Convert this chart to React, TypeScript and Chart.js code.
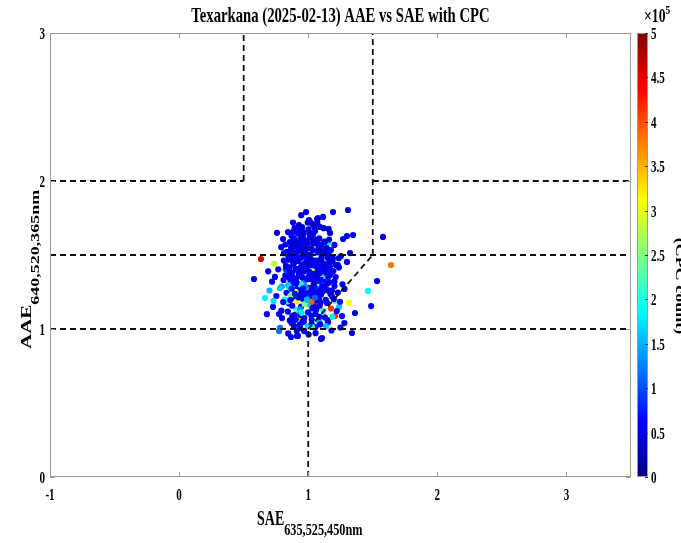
import React, { useEffect, useRef } from "react";
import { Chart, registerables } from "chart.js";

Chart.register(...registerables);

const chartTitle = "Texarkana (2025-02-13) AAE vs SAE with CPC";
const xLabelMain = "SAE";
const xLabelSub = "635,525,450nm";
const yLabelMain = "AAE";
const yLabelSub = "640,520,365nm";
const colorbarLabel = "(CPC count)";
const colorbarExponent = "5";

const xMin = -1;
const xMax = 3.5;
const xStep = 1;
const yMin = 0;
const yMax = 3;
const yStep = 1;
const cpcMin = 0;
const cpcMax = 5;
const cpcStep = 0.5;

// SAE (x)
const sae = [
  0.634, 1.641, 1.579, 1.533, 1.463, 1.316, 1.487, 1.207, 1.362, 1.339,
  1.107, 1.308, 1.192, 0.983, 0.580, 0.665, 0.680, 0.867, 0.920, 1.099,
  0.774, 1.006, 1.030, 1.076, 0.758, 0.843, 0.882, 0.960, 1.053, 0.805,
  0.735, 1.115, 1.068, 1.090, 1.169, 1.300, 1.347, 1.270, 1.153, 1.324,
  1.254, 1.300, 1.230, 0.727, 0.774, 0.797, 0.845, 0.913, 0.937, 0.929,
  0.782, 1.250, 1.280, 1.180, 1.240, 1.150, 1.210, 0.700, 0.720, 0.690,
  0.812, 0.845, 0.873, 0.901, 0.934, 0.962, 0.995, 1.021, 1.048, 1.077,
  1.103, 1.131, 1.158, 1.187, 0.826, 0.858, 0.887, 0.919, 0.948, 0.977,
  1.006, 1.034, 1.062, 1.091, 1.118, 1.146, 1.174, 1.203, 0.795, 0.832,
  0.864, 0.896, 0.927, 0.955, 0.986, 1.013, 1.043, 1.071, 1.099, 1.127,
  1.156, 1.185, 0.818, 0.851, 0.883, 0.914, 0.945, 0.974, 1.004, 1.032,
  1.061, 1.089, 1.117, 1.145, 0.842, 0.876, 0.908, 0.938, 0.969, 0.998,
  1.027, 1.057, 1.085, 0.871, 0.903, 0.935, 0.966, 0.996, 1.026, 1.054,
  0.857, 0.889, 0.921, 0.952, 0.981, 1.011, 1.041, 1.069, 1.097, 1.126,
  0.791, 0.823, 0.953, 0.928, 0.894, 1.002, 1.038, 0.871, 1.142, 1.176,
  0.884, 0.947, 1.016, 0.905, 0.968, 1.074, 0.836, 1.122, 0.991, 1.053,
  0.917, 0.862, 1.084, 1.027, 0.954, 0.809, 1.163, 1.112, 0.876, 0.995,
  0.937, 1.044, 0.892, 1.136, 0.976, 1.067, 0.913, 0.851, 1.019, 1.101,
  0.827, 0.959, 1.078, 1.168, 0.898, 1.033, 0.985, 1.121, 0.869, 0.941,
  1.046, 0.908, 0.973, 1.109, 0.844, 1.195, 0.927, 1.007, 1.088, 0.961,
  1.024, 0.877, 0.993, 1.134, 1.062, 0.919, 0.954, 1.081, 0.839, 1.172,
  0.903, 1.012, 0.958, 1.148, 0.866, 1.039, 0.979, 1.096, 0.931, 1.064,
  1.153, 1.187, 1.221, 1.246, 1.198, 1.262, 1.138, 1.176, 1.229, 1.281,
  0.753, 0.781, 0.742, 0.806, 0.768, 1.213, 1.238, 0.731, 1.265, 0.792,
  1.014, 0.946, 1.119, 0.882, 1.071, 0.998, 0.921, 1.046, 0.973, 1.158,
  0.955, 1.029, 0.889, 1.093, 0.968, 0.912, 1.057, 0.858, 1.129, 1.003,
  0.934, 0.987, 1.036, 0.879, 1.101, 0.962, 1.016, 0.909, 1.074, 0.848,
  0.972, 1.042, 0.901, 1.113, 0.948, 1.087, 0.861, 1.026, 0.994, 1.138,
  0.823, 0.956, 1.108, 0.874, 1.041, 0.992, 1.167, 0.905, 1.083, 0.938,
  1.017, 0.867, 1.132, 0.979, 0.846, 1.058, 0.923, 1.191, 0.964, 1.101,
  0.893, 1.035, 0.944, 1.076, 0.811, 1.149, 0.983, 0.857, 1.022, 1.214,
  0.968, 1.094, 0.881, 1.006, 1.127, 0.937, 1.052, 0.899, 1.175, 0.951,
  1.068, 0.918, 1.143, 0.834, 0.996, 1.085, 0.943, 1.031, 0.872, 1.203,
  0.985, 1.117, 0.906, 1.048, 0.959, 1.162, 0.849, 1.002, 1.091, 0.926,
  1.236, 1.204, 0.883, 1.018, 0.952, 1.073, 0.914, 1.155, 0.991, 1.047,
  0.941, 1.064, 0.862, 1.126, 1.009, 0.897, 1.183, 0.973, 1.039, 0.929,
];

// AAE (y)
const aae = [
  1.473, 1.432, 1.622, 1.324, 1.257, 1.176, 1.155, 1.088, 1.108, 0.973,
  0.939, 1.804, 1.790, 1.790, 1.338, 1.209, 1.100, 0.946, 0.953, 0.933,
  0.986, 1.736, 1.710, 1.750, 1.650, 1.655, 1.655, 1.655, 1.660, 1.608,
  1.440, 1.757, 1.743, 1.690, 1.649, 1.628, 1.635, 1.608, 1.580, 1.513,
  1.493, 1.453, 1.432, 1.149, 1.101, 1.074, 0.970, 0.953, 1.007, 1.081,
  1.007, 1.010, 1.040, 0.990, 1.150, 1.060, 1.190, 1.260, 1.320, 1.390,
  1.512, 1.468, 1.533, 1.487, 1.552, 1.421, 1.498, 1.545, 1.463, 1.517,
  1.482, 1.439, 1.506, 1.458, 1.402, 1.375, 1.441, 1.398, 1.362, 1.425,
  1.389, 1.352, 1.417, 1.378, 1.335, 1.401, 1.366, 1.322, 1.287, 1.245,
  1.312, 1.268, 1.301, 1.257, 1.289, 1.246, 1.308, 1.271, 1.232, 1.294,
  1.261, 1.219, 1.198, 1.173, 1.214, 1.187, 1.151, 1.206, 1.168, 1.139,
  1.192, 1.157, 1.121, 1.176, 1.118, 1.087, 1.129, 1.096, 1.073, 1.112,
  1.064, 1.102, 1.049, 1.041, 1.062, 1.028, 1.049, 1.017, 1.035, 1.012,
  1.588, 1.612, 1.571, 1.627, 1.596, 1.618, 1.579, 1.603, 1.569, 1.591,
  1.553, 1.571, 1.688, 1.702, 1.681, 1.673, 1.642, 1.628, 1.547, 1.533,
  1.447, 1.483, 1.436, 1.339, 1.318, 1.342, 1.353, 1.413, 1.462, 1.387,
  1.274, 1.224, 1.198, 1.281, 1.227, 1.331, 1.316, 1.264, 1.157, 1.252,
  1.133, 1.154, 1.094, 1.197, 1.182, 1.227, 1.242, 1.283, 1.216, 1.331,
  1.426, 1.523, 1.563, 1.422, 1.558, 1.373, 1.454, 1.527, 1.492, 1.301,
  1.291, 1.403, 1.541, 1.447, 1.298, 1.392, 1.363, 1.276, 1.322, 1.201,
  1.091, 1.381, 1.336, 1.358, 1.132, 1.458, 1.392, 1.421, 1.187, 1.236,
  1.517, 1.474, 1.614, 1.307, 1.342, 1.532, 1.274, 1.177, 1.592, 1.449,
  1.045, 1.082, 1.121, 1.184, 1.203, 1.087, 1.018, 1.138, 1.246, 1.271,
  1.223, 1.276, 1.352, 1.182, 1.403, 1.351, 1.415, 1.188, 1.302, 1.124,
  1.724, 1.769, 1.681, 1.719, 1.718, 1.581, 1.646, 1.701, 1.566, 1.676,
  1.049, 1.012, 1.021, 1.031, 0.986, 0.988, 0.972, 1.058, 1.078, 0.962,
  1.478, 1.412, 1.453, 1.466, 1.512, 1.557, 1.361, 1.313, 1.398, 1.521,
  1.169, 1.226, 1.251, 1.254, 1.109, 1.082, 1.196, 1.184, 1.343, 1.381,
  1.362, 1.437, 1.286, 1.529, 1.597, 1.243, 1.458, 1.406, 1.542, 1.589,
  1.478, 1.551, 1.398, 1.283, 1.494, 1.371, 1.214, 1.477, 1.642, 1.564,
  1.311, 1.618, 1.566, 1.247, 1.462, 1.482, 1.509, 1.417, 1.338, 1.433,
  1.391, 1.527, 1.348, 1.444, 1.586, 1.669, 1.212, 1.601, 1.388, 1.246,
  1.326, 1.486, 1.263, 1.521, 1.719, 1.612, 1.419, 1.431, 1.272, 1.568,
  1.542, 1.402, 1.476, 1.688, 1.273, 1.604, 1.407, 1.352, 1.263, 1.527,
  1.478, 1.291, 1.573, 1.503, 1.349, 1.462, 1.562, 1.351, 1.198, 1.327,
  1.627, 1.582, 1.335, 1.516, 1.651, 1.238, 1.259, 1.496, 1.264, 1.372,
];

// CPC count, in units of 1e5
const cpcE5 = [
  4.6, 3.8, 0.4, 0.5, 1.9, 3.1, 0.6, 4.2, 0.5, 0.5,
  0.6, 0.5, 0.5, 0.5, 0.5, 1.8, 0.6, 0.6, 0.5, 0.5,
  1.2, 0.5, 0.4, 0.5, 0.5, 0.5, 0.6, 0.4, 0.5, 0.5,
  2.8, 0.5, 0.5, 0.4, 0.5, 0.5, 0.6, 0.5, 1.9, 0.5,
  0.5, 0.5, 0.6, 0.6, 0.5, 0.5, 0.5, 0.6, 0.5, 3.6,
  1.2, 0.5, 0.5, 0.6, 1.6, 0.5, 2.4, 1.5, 0.6, 0.5,
  0.5, 0.4, 0.6, 0.5, 0.4, 0.7, 0.5, 0.4, 0.6, 0.5,
  0.5, 0.6, 0.5, 0.4, 0.9, 0.5, 0.6, 0.5, 1.1, 0.5,
  0.6, 0.5, 0.4, 0.6, 0.5, 0.7, 0.5, 0.5, 1.4, 0.6,
  0.5, 1.7, 0.6, 0.5, 2.6, 0.5, 0.4, 1.2, 0.5, 0.6,
  0.5, 0.5, 1.9, 0.6, 0.5, 3.2, 0.5, 0.6, 1.6, 0.5,
  0.6, 0.5, 1.8, 0.5, 0.5, 0.6, 2.2, 0.5, 0.5, 0.7,
  0.5, 0.6, 1.5, 0.5, 0.6, 0.5, 0.6, 1.7, 0.5, 0.6,
  0.5, 0.4, 0.5, 0.5, 0.6, 0.5, 0.4, 0.5, 0.6, 0.5,
  0.5, 0.6, 0.5, 0.4, 0.5, 0.5, 0.5, 0.6, 0.5, 0.5,
  0.6, 0.5, 0.7, 0.5, 1.3, 0.5, 0.6, 0.5, 0.5, 2.9,
  0.5, 2.4, 0.6, 4.3, 0.5, 0.6, 0.5, 1.7, 0.6, 0.5,
  1.4, 0.5, 0.6, 0.5, 3.3, 0.6, 0.5, 1.8, 0.5, 0.6,
  0.5, 0.5, 0.6, 0.5, 0.4, 0.6, 0.5, 0.5, 0.6, 2.1,
  0.5, 0.6, 0.5, 0.5, 1.6, 0.6, 0.5, 0.5, 0.7, 0.5,
  0.6, 0.5, 0.5, 1.7, 0.5, 0.6, 0.5, 0.5, 2.0, 0.5,
  0.5, 0.5, 0.4, 0.5, 0.6, 0.5, 2.8, 0.5, 0.5, 0.6,
  0.5, 1.8, 0.6, 0.7, 0.5, 0.6, 1.6, 4.1, 0.5, 0.6,
  0.6, 1.6, 0.5, 0.5, 0.6, 0.5, 0.5, 1.7, 0.6, 0.5,
  0.5, 0.4, 0.5, 0.5, 0.4, 0.5, 0.5, 0.6, 0.5, 0.4,
  0.6, 1.9, 0.5, 0.6, 0.5, 0.5, 0.6, 0.5, 0.5, 0.5,
  0.5, 0.6, 0.5, 0.5, 0.5, 0.4, 0.5, 0.6, 0.5, 0.5,
  2.5, 0.6, 3.0, 0.5, 1.8, 0.6, 0.5, 3.9, 0.5, 0.6,
  0.5, 0.4, 0.6, 0.5, 0.4, 0.7, 0.5, 0.5, 0.4, 0.5,
  0.4, 0.5, 0.6, 1.3, 0.5, 0.4, 0.6, 0.5, 0.4, 0.5,
  0.6, 0.4, 0.5, 0.5, 0.5, 0.4, 0.5, 0.6, 0.5, 0.5,
  0.5, 0.4, 0.6, 0.5, 0.4, 0.5, 1.1, 0.5, 0.5, 0.6,
  0.5, 0.6, 0.5, 0.5, 0.4, 0.5, 0.5, 0.6, 0.7, 0.5,
  0.4, 0.5, 0.5, 0.4, 0.6, 0.5, 0.5, 0.5, 0.6, 0.5,
  0.5, 0.6, 0.4, 0.5, 0.5, 0.5, 0.4, 0.6, 1.5, 0.5,
  0.4, 0.5, 0.6, 0.5, 0.4, 0.7, 0.5, 0.5, 0.6, 0.5,
];

// Dashed guide segments (x pairs and y pairs)
const guideX = [
  [-1, 0.5], [0.5, 0.5], [1.5, 3.5], [1.5, 1.5],
  [-1, 3.5], [-1, 3.5], [1, 1], [1, 1.5],
];
const guideY = [
  [2, 2], [2, 3], [2, 2], [1.5, 3],
  [1.5, 1.5], [1, 1], [0, 1], [1, 1.5],
];

const SERIF = '"Liberation Serif", "Times New Roman", Times, serif';
const CONDENSE = 0.7;

function clamp01(v: number) {
  return Math.max(0, Math.min(1, v));
}
function jet(t: number) {
  const tt = clamp01(t);
  const r = clamp01(1.5 - Math.abs(4 * tt - 3));
  const g = clamp01(1.5 - Math.abs(4 * tt - 2));
  const b = clamp01(1.5 - Math.abs(4 * tt - 1));
  return `rgb(${Math.round(r * 255)},${Math.round(g * 255)},${Math.round(b * 255)})`;
}

type Piece = { text: string; size: number; dy: number };

function drawPieces(
  ctx: CanvasRenderingContext2D,
  pieces: Piece[],
  x: number,
  y: number,
  rot: number,
  sx: number,
  sy: number,
  align: "left" | "center" | "right"
) {
  ctx.save();
  ctx.translate(x, y);
  ctx.rotate(rot);
  ctx.scale(sx, sy);
  ctx.textBaseline = "alphabetic";
  ctx.textAlign = "left";
  let total = 0;
  const widths = pieces.map((p) => {
    ctx.font = `bold ${p.size}px ${SERIF}`;
    const w = ctx.measureText(p.text).width;
    total += w;
    return w;
  });
  let cx = align === "left" ? 0 : align === "center" ? -total / 2 : -total;
  pieces.forEach((p, i) => {
    ctx.font = `bold ${p.size}px ${SERIF}`;
    ctx.fillText(p.text, cx, p.dy);
    cx += widths[i];
  });
  ctx.restore();
}

function fmt(v: number) {
  return String(Math.round(v * 100) / 100);
}

const decorPlugin = {
  id: "decor",
  afterDraw(chart: any) {
    const ctx: CanvasRenderingContext2D = chart.ctx;
    const a = chart.chartArea;
    const xs = chart.scales.x;
    const ys = chart.scales.y;
    const cb = chart.scales.cb;
    ctx.save();
    ctx.fillStyle = "#000";

    // frame
    ctx.strokeStyle = "#9a9a9a";
    ctx.lineWidth = 1;
    ctx.strokeRect(a.left + 0.5, a.top + 0.5, a.right - a.left - 1, a.bottom - a.top - 1);

    // inner tick marks
    ctx.beginPath();
    xs.ticks.forEach((t: any) => {
      const px = Math.round(xs.getPixelForValue(t.value)) + 0.5;
      ctx.moveTo(px, a.bottom);
      ctx.lineTo(px, a.bottom - 5);
      ctx.moveTo(px, a.top);
      ctx.lineTo(px, a.top + 5);
    });
    ys.ticks.forEach((t: any) => {
      const py = Math.round(ys.getPixelForValue(t.value)) + 0.5;
      ctx.moveTo(a.left, py);
      ctx.lineTo(a.left + 5, py);
      ctx.moveTo(a.right, py);
      ctx.lineTo(a.right - 5, py);
    });
    ctx.stroke();

    // tick labels
    xs.ticks.forEach((t: any) => {
      const px = xs.getPixelForValue(t.value);
      drawPieces(ctx, [{ text: fmt(t.value), size: 17, dy: 0 }], px, a.bottom + 23, 0, 0.65, 1, "center");
    });
    ys.ticks.forEach((t: any) => {
      const py = ys.getPixelForValue(t.value);
      drawPieces(ctx, [{ text: fmt(t.value), size: 17, dy: 0 }], a.left - 5, py + 6, 0, 0.65, 1, "right");
    });

    // title
    drawPieces(ctx, [{ text: chartTitle, size: 21, dy: 0 }], (a.left + a.right) / 2, 22, 0, CONDENSE, 1, "center");

    // x label
    drawPieces(
      ctx,
      [
        { text: xLabelMain, size: 20, dy: 0 },
        { text: xLabelSub, size: 17.5, dy: 10 },
      ],
      257,
      a.bottom + 48,
      0,
      CONDENSE,
      1,
      "left"
    );

    // y label (vertical text: glyph heights compressed, length not)
    drawPieces(
      ctx,
      [
        { text: yLabelMain, size: 21, dy: 0 },
        { text: yLabelSub, size: 18, dy: 11 },
      ],
      31,
      ys.getPixelForValue(1) + 20,
      -Math.PI / 2,
      1,
      CONDENSE,
      "left"
    );

    // colorbar
    const barL = cb.left + 6;
    const barW = 11;
    const top = cb.getPixelForValue(cpcMax);
    const bot = cb.getPixelForValue(cpcMin);
    const grad = ctx.createLinearGradient(0, bot, 0, top);
    for (let i = 0; i <= 32; i++) {
      grad.addColorStop(i / 32, jet(i / 32));
    }
    ctx.fillStyle = grad;
    ctx.fillRect(barL, top, barW, bot - top);
    ctx.strokeStyle = "#9a9a9a";
    ctx.strokeRect(barL + 0.5, top + 0.5, barW - 1, bot - top - 1);
    ctx.fillStyle = "#000";
    ctx.strokeStyle = "#333";
    ctx.beginPath();
    cb.ticks.forEach((t: any) => {
      const py = Math.round(cb.getPixelForValue(t.value)) + 0.5;
      ctx.moveTo(barL + barW - 3, py);
      ctx.lineTo(barL + barW, py);
    });
    ctx.stroke();
    cb.ticks.forEach((t: any) => {
      const py = cb.getPixelForValue(t.value);
      drawPieces(ctx, [{ text: fmt(t.value), size: 17, dy: 0 }], barL + barW + 3, py + 6, 0, 0.65, 1, "left");
    });
    drawPieces(
      ctx,
      [
        { text: "\u00d710", size: 19, dy: 0 },
        { text: colorbarExponent, size: 13, dy: -8 },
      ],
      barL + 7,
      top - 11,
      0,
      0.72,
      1,
      "left"
    );
    drawPieces(
      ctx,
      [{ text: colorbarLabel, size: 18, dy: 0 }],
      cb.left + 45,
      cb.getPixelForValue(2.15),
      Math.PI / 2,
      1,
      CONDENSE,
      "center"
    );

    ctx.restore();
  },
};

export default function App() {
  const canvasRef = useRef<HTMLCanvasElement | null>(null);

  useEffect(() => {
    const canvas = canvasRef.current;
    if (!canvas) return;
    const n = Math.min(sae.length, aae.length, cpcE5.length);
    const points = [];
    const colors: string[] = [];
    for (let i = 0; i < n; i++) {
      points.push({ x: sae[i], y: aae[i] });
      colors.push(jet((cpcE5[i] - cpcMin) / (cpcMax - cpcMin)));
    }
    const guideSets = guideX.map((xs, i) => ({
      type: "line" as const,
      data: xs.map((xv, j) => ({ x: xv, y: guideY[i][j] })),
      borderColor: "#111",
      borderWidth: 1.8,
      borderDash: [6, 4],
      pointRadius: 0,
      fill: false,
      showLine: true,
      tension: 0,
      order: 0,
    }));

    const chart = new Chart(canvas, {
      type: "scatter",
      data: {
        datasets: [
          {
            type: "scatter" as const,
            data: points,
            backgroundColor: colors,
            borderWidth: 0,
            pointRadius: 3.1,
            order: 5,
          },
          ...guideSets,
        ] as any,
      },
      options: {
        animation: false,
        responsive: false,
        maintainAspectRatio: false,
        layout: { padding: { top: 33, left: 0, right: 0, bottom: 0 } },
        plugins: {
          legend: { display: false },
          tooltip: { enabled: false },
          title: { display: false },
        },
        scales: {
          x: {
            type: "linear",
            min: xMin,
            max: xMax,
            ticks: { stepSize: xStep, includeBounds: false, display: false },
            grid: { display: false },
            border: { display: false },
            afterFit: (s: any) => {
              s.height = 66;
            },
          },
          y: {
            type: "linear",
            position: "left",
            min: yMin,
            max: yMax,
            ticks: { stepSize: yStep, display: false },
            grid: { display: false },
            border: { display: false },
            afterFit: (s: any) => {
              s.width = 50;
            },
          },
          cb: {
            type: "linear",
            position: "right",
            min: cpcMin,
            max: cpcMax,
            ticks: { stepSize: cpcStep, display: false },
            grid: { display: false },
            border: { display: false },
            afterFit: (s: any) => {
              s.width = 50;
            },
          },
        },
      } as any,
      plugins: [decorPlugin],
    });
    return () => chart.destroy();
  }, []);

  return (
    <div style={{ position: "fixed", left: 0, top: 0, width: 681, height: 543, background: "#fff" }}>
      <canvas ref={canvasRef} width={681} height={543} style={{ display: "block" }} />
    </div>
  );
}
